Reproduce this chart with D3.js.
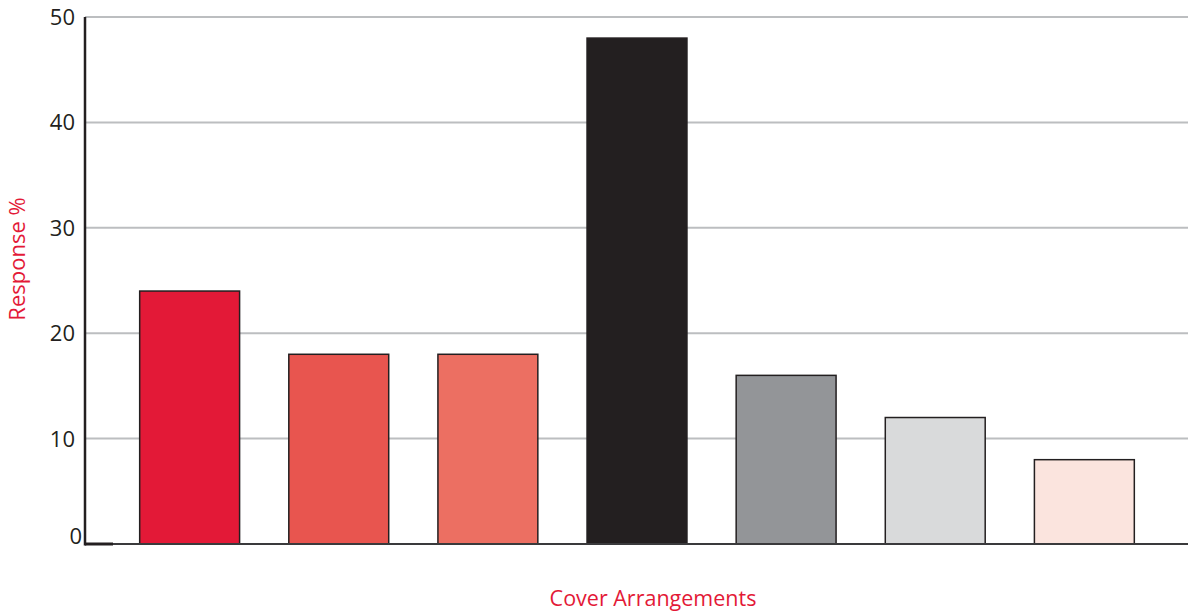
<!DOCTYPE html>
<html>
<head>
<meta charset="utf-8">
<script src="https://cdn.jsdelivr.net/npm/d3@7"></script>
<style>
  html, body { margin: 0; padding: 0; background: #fff; }
  svg { display: block; }
</style>
</head>
<body>
<svg id="chart" width="1188" height="615"></svg>
<script>
// Response share for each cover arrangement
const categories = ["A", "B", "C", "D", "E", "F", "G"];
const responses = [24, 18, 18, 48, 16, 12, 8];
const barColors = ["#e31937", "#e8554f", "#ec6f62", "#231f20", "#939598", "#d9dadb", "#fbe4de"];
const yTicks = [0, 10, 20, 30, 40, 50];

const svg = d3.select("#chart");
const fontFamily = "'Open Sans', 'Noto Sans', sans-serif";

const x0 = 85, x1 = 1188, yTop = 17, yBottom = 544;

const x = d3.scaleBand()
  .domain(categories)
  .range([x0 + 1, x1])
  .paddingInner(0.33)
  .paddingOuter(0.36);

const y = d3.scaleLinear()
  .domain([0, 50])
  .range([yBottom, yTop]);

// horizontal gridlines
svg.append("g")
  .selectAll("line")
  .data(yTicks.filter(d => d > 0))
  .join("line")
  .attr("x1", x0)
  .attr("x2", x1)
  .attr("y1", d => y(d))
  .attr("y2", d => y(d))
  .attr("stroke", "#bcbec0")
  .attr("stroke-width", 2);

// bars
svg.append("g")
  .selectAll("rect")
  .data(categories)
  .join("rect")
  .attr("x", d => x(d))
  .attr("width", x.bandwidth())
  .attr("y", (d, i) => y(responses[i]))
  .attr("height", (d, i) => y(0) - y(responses[i]))
  .attr("fill", (d, i) => barColors[i])
  .attr("stroke", "#231f20")
  .attr("stroke-width", 1.5);

// baseline
svg.append("line")
  .attr("x1", x0).attr("x2", x1)
  .attr("y1", y(0)).attr("y2", y(0))
  .attr("stroke", "#3a3a3c")
  .attr("stroke-width", 1.8);
svg.append("line")
  .attr("x1", x0).attr("x2", x0 + 28)
  .attr("y1", y(0)).attr("y2", y(0))
  .attr("stroke", "#231f20")
  .attr("stroke-width", 3);

// y axis line
svg.append("line")
  .attr("x1", x0).attr("x2", x0)
  .attr("y1", yTop).attr("y2", y(0) + 1.5)
  .attr("stroke", "#231f20")
  .attr("stroke-width", 2.5);

// y tick labels
svg.append("g")
  .selectAll("text")
  .data(yTicks)
  .join("text")
  .attr("x", d => d === 0 ? 82 : 75)
  .attr("y", d => y(d) + (d === 0 ? -8 : 0))
  .attr("dy", "0.36em")
  .attr("text-anchor", "end")
  .attr("font-family", fontFamily)
  .attr("font-size", 22)
  .attr("fill", "#231f20")
  .text(d => d);

// axis titles
svg.append("text")
  .attr("transform", "translate(25,259) rotate(-90)")
  .attr("text-anchor", "middle")
  .attr("font-family", fontFamily)
  .attr("font-size", 22)
  .attr("fill", "#e31937")
  .text("Response %");

svg.append("text")
  .attr("x", 653)
  .attr("y", 606)
  .attr("text-anchor", "middle")
  .attr("font-family", fontFamily)
  .attr("font-size", 21.5)
  .attr("fill", "#e31937")
  .text("Cover Arrangements");
</script>
</body>
</html>
